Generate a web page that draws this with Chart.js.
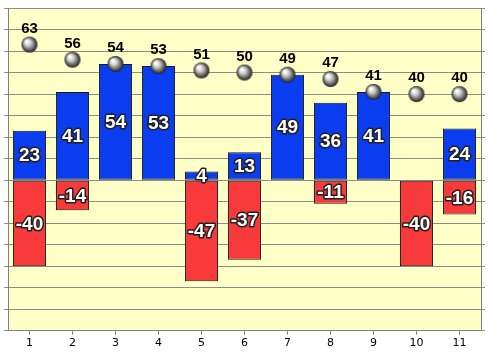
<!DOCTYPE html>
<html>
<head>
<meta charset="utf-8">
<script src="https://cdn.jsdelivr.net/npm/chart.js@4/dist/chart.umd.min.js"></script>
<style>
  html, body { margin: 0; padding: 0; background: #fff; }
  #wrap { width: 488px; height: 352px; }
</style>
</head>
<body>
<div id="wrap"><canvas id="chart" width="488" height="352"></canvas></div>
<script>
const categories = ['1', '2', '3', '4', '5', '6', '7', '8', '9', '10', '11'];
const positiveValues = [23, 41, 54, 53, 4, 13, 49, 36, 41, null, 24];
const negativeValues = [-40, -14, null, null, -47, -37, null, -11, null, -40, -16];
const totalValues = [63, 56, 54, 53, 51, 50, 49, 47, 41, 40, 40];
const yMin = -70;
const yMax = 80;
const yStep = 10;

// grey ball used as point marker
function makeBall(r) {
    const c = document.createElement('canvas');
    c.width = r * 2 + 2;
    c.height = r * 2 + 2;
    const g = c.getContext('2d');
    const cx = r + 1, cy = r + 1;
    const grad = g.createRadialGradient(cx - r * 0.35, cy - r * 0.4, 1, cx, cy, r);
    grad.addColorStop(0, '#ffffff');
    grad.addColorStop(0.35, '#c8c8c8');
    grad.addColorStop(0.8, '#505050');
    grad.addColorStop(1, '#202020');
    g.beginPath();
    g.arc(cx, cy, r, 0, Math.PI * 2);
    g.fillStyle = grad;
    g.fill();
    return c;
}

const plotBackground = {
    id: 'plotBackground',
    beforeDraw(chart) {
        const { ctx, chartArea } = chart;
        ctx.save();
        ctx.fillStyle = '#ffffc8';
        ctx.fillRect(chartArea.left, chartArea.top, chartArea.right - chartArea.left, chartArea.bottom - chartArea.top);
        ctx.restore();
    }
};

const valueLabels = {
    id: 'valueLabels',
    afterDatasetsDraw(chart) {
        const ctx = chart.ctx;
        ctx.save();
        ctx.textAlign = 'center';
        ctx.textBaseline = 'middle';
        // bar labels
        ctx.font = 'bold 19px "Liberation Sans", Arial, sans-serif';
        ctx.lineJoin = 'round';
        [0, 1].forEach(di => {
            const meta = chart.getDatasetMeta(di);
            const data = chart.data.datasets[di].data;
            meta.data.forEach((bar, i) => {
                if (data[i] === null) return;
                const y = (bar.y + bar.base) / 2;
                ctx.lineWidth = 3;
                ctx.strokeStyle = '#202020';
                ctx.strokeText(String(data[i]), bar.x, y + 1);
                ctx.fillStyle = '#ffffff';
                ctx.fillText(String(data[i]), bar.x, y + 1);
            });
        });
        // point labels
        ctx.font = 'bold 15px "Liberation Sans", Arial, sans-serif';
        ctx.fillStyle = '#000';
        const pm = chart.getDatasetMeta(2);
        pm.data.forEach((pt, i) => {
            ctx.fillText(String(totalValues[i]), pt.x, pt.y - 16);
        });
        ctx.restore();
    }
};

const ctx = document.getElementById('chart').getContext('2d');
const myChart = new Chart(ctx, {
    data: {
        labels: categories,
        datasets: [{
            type: 'bar',
            data: positiveValues,
            backgroundColor: '#0a3cf0',
            borderColor: '#1a1a1a',
            borderWidth: 1,
            borderSkipped: false,
            barPercentage: 0.77,
            categoryPercentage: 1,
            order: 2
        }, {
            type: 'bar',
            data: negativeValues,
            backgroundColor: '#f83a3a',
            borderColor: '#1a1a1a',
            borderWidth: 1,
            borderSkipped: false,
            barPercentage: 0.77,
            categoryPercentage: 1,
            order: 2
        }, {
            type: 'line',
            data: totalValues,
            showLine: false,
            pointStyle: makeBall(8),
            pointRadius: 9,
            order: 1
        }]
    },
    options: {
        responsive: false,
        animation: false,
        layout: { autoPadding: false, padding: { left: 4, right: 3, top: 8, bottom: 0 } },
        plugins: {
            legend: { display: false },
            tooltip: { enabled: false }
        },
        scales: {
            x: {
                stacked: true,
                grid: { offset: false, drawOnChartArea: false, tickLength: 4, color: '#808080' },
                border: { color: '#808080' },
                ticks: { color: '#000', font: { family: 'DejaVu Sans', size: 11 }, padding: 2 }
            },
            y: {
                stacked: true,
                min: yMin,
                max: yMax,
                ticks: { display: false, stepSize: yStep },
                grid: { color: '#8c8c8c', tickLength: 4 },
                border: { color: '#808080' }
            },
            y2: {
                position: 'right',
                min: yMin,
                max: yMax,
                ticks: { display: false, stepSize: yStep },
                grid: { drawOnChartArea: false, color: '#8c8c8c', tickLength: 4 },
                border: { color: '#808080' }
            }
        }
    },
    plugins: [plotBackground, valueLabels]
});
</script>
</body>
</html>
